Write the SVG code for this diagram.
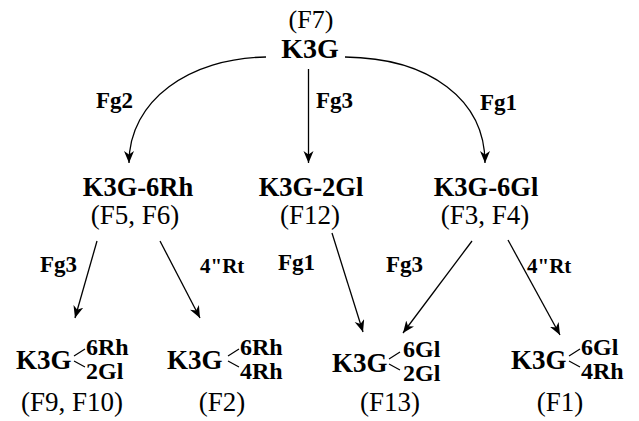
<svg xmlns="http://www.w3.org/2000/svg" width="639" height="421" viewBox="0 0 639 421">
<style>
text{font-family:"Liberation Serif","Times New Roman",serif;fill:#000}
.b{font-weight:bold}
.top{font-size:28px}
.reg{font-size:27px}
.f7{font-size:26px}
.mid{font-size:26.5px}
.big{font-size:27px}
.sub{font-size:24px}
.lab{font-size:23px}
.lab2{font-size:21px}
.c{stroke:#000;stroke-width:1.3;fill:none}
.br{stroke:#000;stroke-width:1.2;fill:none}
</style>
<defs>
<marker id="ah" markerUnits="userSpaceOnUse" markerWidth="14" markerHeight="12" refX="12" refY="5" orient="auto">
<path d="M0,0 L12,5 L0,10 L3.5,5 z" fill="#000"/>
</marker>
</defs>
<rect width="639" height="421" fill="#fff"/>
<g id="connectors">
<path class="c" d="M266,57 C190,58 129,100 129,163" marker-end="url(#ah)"/>
<path class="c" d="M308.5,69 L308.5,163" marker-end="url(#ah)"/>
<path class="c" d="M345,57 C430,58 485,100 485,163" marker-end="url(#ah)"/>
<path class="c" d="M97,241 L75,318" marker-end="url(#ah)"/>
<path class="c" d="M160,241 L200,318" marker-end="url(#ah)"/>
<path class="c" d="M332,233 L363,332" marker-end="url(#ah)"/>
<path class="c" d="M472,241 L403,333" marker-end="url(#ah)"/>
<path class="c" d="M508,240 L560,335" marker-end="url(#ah)"/>
<text class="b lab" x="96" y="108">Fg2</text>
<text class="b lab" x="316" y="108">Fg3</text>
<text class="b lab" x="480" y="110">Fg1</text>
<text class="b lab" x="40" y="272">Fg3</text>
<text class="b lab2" x="200" y="273">4"Rt</text>
<text class="b lab" x="278" y="270">Fg1</text>
<text class="b lab" x="386" y="272">Fg3</text>
<text class="b lab2" x="527" y="273">4"Rt</text>
</g>
<g id="n-k3g">
<text class="f7" x="311" y="28" text-anchor="middle">(F7)</text>
<text class="b top" x="310" y="58" text-anchor="middle">K3G</text>
</g>
<g id="n-k3g-6rh">
<text class="b mid" x="138" y="196" text-anchor="middle">K3G-6Rh</text>
<text class="reg" x="135" y="224" text-anchor="middle">(F5, F6)</text>
</g>
<g id="n-k3g-2gl">
<text class="b mid" x="311" y="196" text-anchor="middle">K3G-2Gl</text>
<text class="reg" x="310" y="224" text-anchor="middle">(F12)</text>
</g>
<g id="n-k3g-6gl">
<text class="b mid" x="486" y="196" text-anchor="middle">K3G-6Gl</text>
<text class="reg" x="485" y="224" text-anchor="middle">(F3, F4)</text>
</g>
<g id="n-f9f10">
<text class="b big" x="16" y="369">K3G</text>
<path class="br" d="M85,349 L74,356 M74,361 L85,367"/>
<text class="b sub" x="86" y="355">6Rh</text>
<text class="b sub" x="86" y="379">2Gl</text>
<text class="reg" x="72" y="411" text-anchor="middle">(F9, F10)</text>
</g>
<g id="n-f2">
<text class="b big" x="167" y="369">K3G</text>
<path class="br" d="M239,349 L228,356 M228,361 L239,367"/>
<text class="b sub" x="240" y="355">6Rh</text>
<text class="b sub" x="240" y="379">4Rh</text>
<text class="reg" x="222" y="411" text-anchor="middle">(F2)</text>
</g>
<g id="n-f13">
<text class="b big" x="332" y="372">K3G</text>
<path class="br" d="M400,352 L389,359 M389,364 L400,370"/>
<text class="b sub" x="403" y="357">6Gl</text>
<text class="b sub" x="403" y="381">2Gl</text>
<text class="reg" x="390" y="411" text-anchor="middle">(F13)</text>
</g>
<g id="n-f1">
<text class="b big" x="511" y="369">K3G</text>
<path class="br" d="M580,349 L569,356 M569,361 L580,367"/>
<text class="b sub" x="581" y="355">6Gl</text>
<text class="b sub" x="581" y="379">4Rh</text>
<text class="reg" x="560" y="411" text-anchor="middle">(F1)</text>
</g>
</svg>
